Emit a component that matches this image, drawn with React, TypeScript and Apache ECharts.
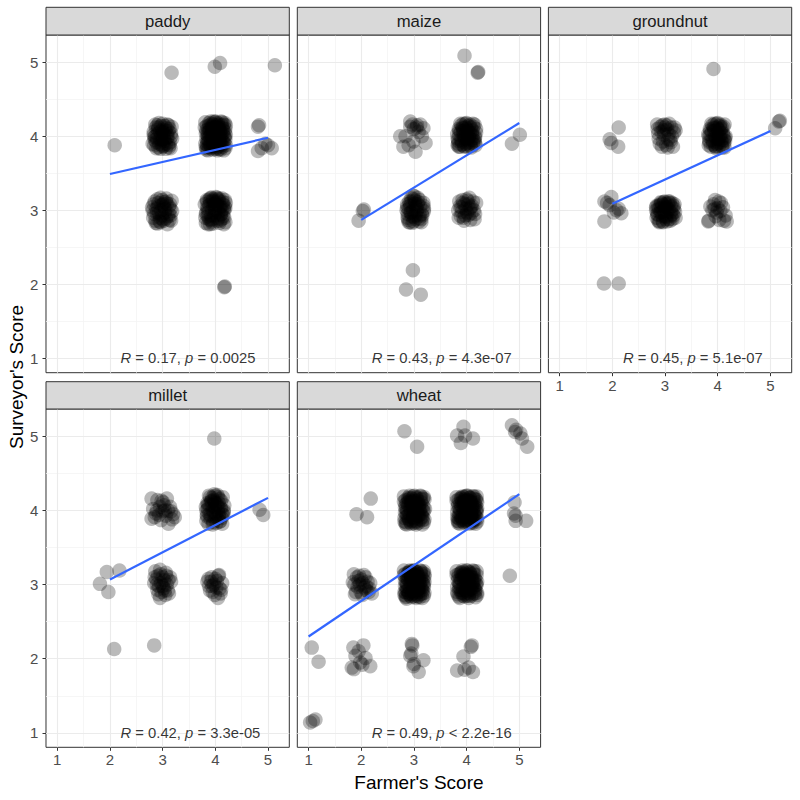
import React, { useEffect, useRef } from 'react';
import * as echarts from 'echarts';

// ---------------- data ----------------
const crops = ['paddy', 'maize', 'groundnut', 'millet', 'wheat'];
const xTicks = [1, 2, 3, 4, 5];
const yTicks = [1, 2, 3, 4, 5];
const minorTicks = [1.5, 2.5, 3.5, 4.5];
const rValues = ['0.17', '0.43', '0.45', '0.42', '0.49'];
const pValues = ['= 0.0025', '= 4.3e-07', '= 5.1e-07', '= 3.3e-05', '< 2.2e-16'];
const fitStart = [[2, 3.49], [2, 2.87], [2, 3.09], [2, 3.07], [1, 2.3]];
const fitEnd = [[5, 3.98], [5, 4.18], [5, 4.07], [5, 4.17], [5, 4.22]];

const paddyPoints = [
  [2.09, 3.88], [3.17, 4.86], [3.99, 4.94], [4.09, 4.99], [5.13, 4.96], [4.18, 1.97], [4.17, 1.96],
  [4.81, 4.13], [4.83, 4.15], [4.88, 3.84], [5.0, 3.88], [5.07, 3.84], [4.81, 3.8], [4.95, 3.9],
  [2.85, 3.95], [2.92, 4.12], [3.05, 4.08], [3.14, 3.92], [2.88, 3.84], [3.02, 3.87], [3.11, 4.15], [2.97, 4.01],
  [2.83, 4.06], [3.08, 3.98], [2.94, 3.9], [3.16, 4.04], [3.0, 4.17], [2.9, 4.03], [3.12, 3.85], [2.86, 4.16],
  [3.04, 3.94], [2.96, 3.83], [3.18, 3.97], [2.81, 3.9], [3.07, 4.11], [2.99, 4.08], [3.13, 4.1], [2.89, 3.97],
  [3.03, 4.02], [2.93, 4.18], [3.1, 3.89], [2.84, 3.99], [3.06, 3.83], [2.98, 3.95],
  [2.84, 3.88], [2.91, 4.09], [3.0, 3.86], [3.09, 4.16], [3.16, 4.0], [2.87, 4.12], [2.95, 3.96], [3.04, 4.14],
  [3.13, 3.88], [2.83, 4.02], [2.92, 3.85], [3.01, 4.05], [3.1, 3.99], [3.17, 4.13], [2.88, 3.92], [2.97, 4.14],
  [3.06, 3.9], [3.15, 3.84], [2.86, 4.0], [2.95, 4.06], [3.02, 3.97], [3.11, 4.07], [2.9, 4.15], [2.99, 3.88],
  [3.08, 4.03],
  [3.82, 3.85], [3.9, 4.1], [4.05, 4.18], [4.15, 3.92], [3.95, 3.82], [4.1, 4.05], [4.2, 4.15], [3.85, 4.02],
  [4.0, 3.95], [4.08, 3.83], [3.93, 4.17], [4.17, 4.0], [3.88, 3.93], [4.03, 4.07], [4.12, 3.88], [3.97, 4.12],
  [3.84, 4.14], [4.19, 3.84], [4.06, 3.98], [3.91, 3.87], [4.01, 4.2], [4.14, 4.11], [3.86, 3.81], [3.99, 4.04],
  [4.1, 3.94], [3.94, 4.0], [4.18, 4.06], [3.83, 3.97], [4.04, 3.86], [3.96, 4.16], [4.13, 4.19], [3.89, 4.07],
  [4.07, 4.13], [4.16, 3.81], [3.81, 4.19], [4.02, 3.9], [3.92, 3.95], [4.11, 4.01], [3.87, 4.1], [4.0, 3.83],
  [4.19, 3.96], [3.95, 4.09], [4.09, 3.9], [3.84, 3.89], [4.05, 4.03], [3.98, 3.87], [4.15, 4.08], [3.9, 4.0],
  [4.03, 4.15], [3.86, 4.05],
  [3.81, 3.9], [3.88, 4.18], [3.97, 3.91], [4.06, 4.11], [4.14, 3.86], [4.2, 4.02], [3.83, 4.08], [3.92, 3.84],
  [4.01, 4.13], [4.1, 3.99], [4.18, 4.18], [3.86, 3.96], [3.95, 4.06], [4.04, 3.81], [4.12, 4.15], [3.8, 4.12],
  [3.9, 3.89], [3.99, 4.19], [4.08, 3.93], [4.17, 3.91], [3.84, 3.84], [3.93, 4.13], [4.02, 3.99], [4.11, 4.2],
  [4.2, 3.88], [3.87, 4.0], [3.96, 3.86], [4.05, 4.16], [4.14, 4.04], [3.82, 4.04], [3.91, 4.2], [4.0, 3.88],
  [4.09, 4.08], [4.18, 3.99], [3.85, 3.92], [3.94, 4.11], [4.03, 3.84], [4.13, 3.95], [3.89, 4.15], [3.98, 3.98],
  [4.07, 4.02], [4.16, 4.16], [3.83, 3.82], [3.92, 4.03], [4.01, 4.07], [4.1, 3.82], [4.19, 4.1], [3.88, 3.86],
  [3.97, 4.2], [4.06, 3.93],
  [2.84, 2.95], [2.92, 3.1], [3.06, 3.12], [3.15, 2.93], [2.9, 2.82], [3.02, 2.86], [3.12, 3.05], [2.97, 3.0],
  [2.83, 3.08], [3.09, 2.81], [2.95, 2.9], [3.17, 3.13], [3.01, 3.08], [2.88, 3.02], [3.13, 2.87], [2.86, 2.86],
  [3.04, 2.97], [2.99, 3.14], [3.18, 2.99], [2.93, 2.96], [3.08, 3.09], [2.81, 3.0], [3.1, 2.92], [2.96, 2.84],
  [3.03, 3.04],
  [2.82, 2.9], [2.9, 3.15], [2.99, 2.93], [3.07, 3.16], [3.15, 3.02], [2.85, 3.12], [2.94, 2.85], [3.03, 3.11],
  [3.12, 2.95], [2.8, 3.04], [2.89, 2.97], [2.98, 3.07], [3.06, 2.89], [3.14, 3.08], [2.87, 2.83], [2.96, 3.17],
  [3.05, 3.01], [3.16, 2.86], [2.91, 3.05], [3.0, 2.88],
  [3.82, 2.95], [3.9, 3.12], [4.05, 3.15], [4.15, 2.92], [3.95, 2.82], [4.1, 3.05], [4.2, 3.1], [3.85, 3.02],
  [4.0, 2.97], [4.08, 2.83], [3.93, 3.17], [4.17, 3.0], [3.88, 2.88], [4.03, 3.07], [4.12, 2.88], [3.97, 3.12],
  [3.84, 3.14], [4.19, 2.84], [4.06, 2.98], [3.91, 2.87], [4.01, 3.18], [4.14, 3.11], [3.86, 2.81], [3.99, 3.04],
  [4.1, 2.94], [3.94, 3.0], [4.18, 3.06], [3.83, 2.97], [4.04, 2.86], [3.96, 3.15], [4.13, 3.16], [3.89, 3.07],
  [4.07, 3.13], [4.16, 2.81], [3.92, 2.93],
  [3.81, 2.9], [3.89, 3.15], [3.98, 2.93], [4.07, 3.16], [4.16, 3.02], [3.84, 3.12], [3.93, 2.85], [4.02, 3.11],
  [4.11, 2.95], [4.19, 3.03], [3.87, 2.97], [3.96, 3.07], [4.05, 2.89], [4.14, 3.08], [3.82, 2.83], [3.91, 3.17],
  [4.0, 3.01], [4.09, 2.86], [4.18, 3.14], [3.85, 3.05], [3.94, 2.88], [4.03, 3.17], [4.12, 3.0], [3.8, 3.08],
  [3.9, 2.81], [3.99, 3.09], [4.08, 3.03], [4.17, 2.9], [3.86, 2.92], [3.95, 3.13],
];

const maizePoints = [
  [3.96, 5.09], [4.21, 4.86], [4.22, 4.87], [5.01, 4.02], [4.86, 3.9], [2.03, 2.99], [2.05, 3.01], [1.95, 2.86],
  [2.98, 2.19], [2.85, 1.93], [3.13, 1.86],
  [2.84, 4.0], [2.93, 4.13], [3.06, 4.15], [3.18, 4.11], [2.9, 3.88], [3.03, 3.79], [3.22, 3.91], [2.74, 4.0],
  [3.15, 4.0], [2.99, 3.93], [3.09, 4.06], [2.93, 4.2], [2.8, 3.86], [3.05, 4.12], [2.97, 4.16], [3.0, 4.1],
  [3.12, 4.16],
  [3.84, 3.9], [3.92, 4.12], [4.06, 4.16], [4.15, 3.94], [3.96, 3.86], [4.1, 4.04], [4.18, 4.1], [3.86, 4.02],
  [4.01, 3.96], [4.08, 3.87], [3.94, 4.17], [4.16, 4.0], [3.89, 3.95], [4.03, 4.08], [4.12, 3.9], [3.98, 4.12],
  [3.85, 4.1], [4.17, 3.88], [4.05, 3.99], [3.91, 3.89], [4.0, 4.18], [4.13, 4.13], [3.87, 3.86], [3.99, 4.04],
  [4.09, 3.95], [3.95, 4.0], [4.02, 3.91], [3.93, 4.07], [4.11, 4.08], [3.83, 3.97],
  [3.83, 3.88], [3.9, 4.15], [3.99, 3.9], [4.08, 4.12], [4.16, 3.98], [3.86, 4.08], [3.95, 3.87], [4.04, 4.14],
  [4.13, 3.95], [3.82, 4.03], [3.91, 3.93], [4.0, 4.1], [4.09, 3.85], [4.18, 4.05], [3.88, 4.17], [3.97, 3.97],
  [4.06, 4.04], [4.15, 4.16], [3.84, 3.94], [3.93, 4.11], [4.02, 3.86], [4.11, 4.01], [3.89, 4.06], [3.98, 4.17],
  [4.07, 3.92], [4.16, 3.91], [3.85, 3.86], [3.94, 4.04], [4.03, 4.0], [4.12, 4.17],
  [2.88, 2.95], [2.95, 3.12], [3.07, 3.17], [3.16, 2.93], [2.92, 2.84], [3.03, 2.88], [3.12, 3.05], [2.98, 3.0],
  [2.87, 3.08], [3.1, 2.85], [2.96, 2.92], [3.18, 3.1], [3.02, 3.09], [2.9, 3.02], [3.14, 2.88], [2.89, 2.87],
  [3.05, 2.98], [3.0, 3.15], [3.19, 2.99], [2.94, 2.97], [3.08, 3.11], [2.86, 3.0], [3.11, 2.93], [2.97, 2.83],
  [3.04, 3.05], [3.01, 3.19], [2.93, 3.06],
  [2.88, 2.9], [2.95, 3.17], [3.03, 2.93], [3.11, 3.14], [3.19, 3.02], [2.91, 3.12], [2.99, 2.85], [3.07, 3.08],
  [3.15, 2.95], [2.87, 3.04], [2.94, 2.97], [3.02, 3.13], [3.1, 2.89], [3.18, 3.06], [2.9, 2.84], [2.98, 3.2],
  [3.06, 3.01], [3.14, 2.84], [2.92, 3.09], [3.0, 2.91],
  [3.84, 3.0], [3.92, 3.14], [4.05, 3.17], [4.16, 2.95], [3.95, 2.86], [4.1, 3.06], [4.18, 3.1], [3.87, 3.05],
  [4.01, 2.97], [4.07, 2.87], [3.93, 3.1], [4.14, 3.0], [3.89, 2.92], [4.03, 3.08], [3.98, 3.02], [3.85, 2.9],
  [4.12, 3.12], [3.97, 2.93], [4.02, 3.13], [4.09, 2.96], [3.9, 3.04], [4.06, 3.02],
  [3.86, 3.12], [3.94, 2.9], [4.0, 3.15], [4.08, 3.04], [4.15, 2.88], [3.91, 2.98], [4.04, 2.94], [3.96, 3.08],
];

const groundnutPoints = [
  [3.92, 4.91], [5.18, 4.21], [5.16, 4.2], [5.09, 4.11], [2.12, 4.12], [1.95, 3.96], [2.11, 3.86], [1.98, 3.91],
  [1.84, 2.01], [2.12, 2.01],
  [1.85, 3.12], [1.98, 3.18], [2.17, 2.96], [1.85, 2.85], [2.08, 3.0], [1.95, 3.07], [2.03, 2.97], [1.9, 3.1],
  [2.12, 3.02],
  [2.86, 4.1], [2.95, 4.15], [3.08, 4.17], [3.17, 4.05], [2.9, 3.9], [3.02, 3.88], [3.12, 4.12], [2.98, 4.02],
  [2.85, 4.16], [3.1, 3.95], [2.93, 4.06], [3.2, 4.08], [3.0, 4.12], [3.05, 3.85], [2.88, 3.97], [3.15, 3.86],
  [2.96, 3.93], [3.04, 4.09], [3.13, 4.0], [2.91, 4.13], [3.07, 4.03], [2.99, 4.16],
  [2.87, 4.04], [2.94, 3.86], [3.03, 4.15], [3.11, 3.92], [3.18, 4.12], [2.97, 4.08], [3.06, 3.96],
  [3.84, 3.92], [3.92, 4.12], [4.05, 4.16], [4.14, 3.94], [3.96, 3.86], [4.1, 4.04], [3.86, 4.02], [4.01, 3.96],
  [4.08, 3.87], [3.94, 4.17], [4.15, 4.0], [3.89, 3.95], [4.03, 4.08], [4.12, 3.9], [3.98, 4.12], [3.85, 4.1],
  [4.13, 3.85], [4.05, 3.99], [3.91, 3.89], [4.0, 4.18], [4.11, 4.13], [3.87, 3.86], [3.99, 4.04], [4.07, 3.95],
  [3.95, 4.0], [4.02, 3.91], [3.93, 4.07], [3.83, 4.0], [4.06, 4.1], [3.97, 3.84],
  [3.83, 3.88], [3.9, 4.15], [3.99, 3.9], [4.08, 4.12], [4.14, 3.98], [3.86, 4.08], [3.95, 3.87], [4.04, 4.14],
  [4.12, 3.95], [3.82, 4.03], [3.91, 3.93], [4.0, 4.1], [4.09, 3.85], [3.88, 4.17], [3.97, 3.97], [4.06, 4.04],
  [4.13, 4.16], [3.84, 3.94], [3.93, 4.11], [4.02, 3.86], [4.11, 4.01], [3.89, 4.06], [3.98, 4.17], [4.07, 3.92],
  [4.03, 4.0],
  [2.85, 2.95], [2.93, 3.1], [3.06, 3.12], [3.16, 2.93], [2.9, 2.85], [3.02, 2.88], [3.12, 3.05], [2.97, 3.0],
  [2.84, 3.06], [3.1, 2.86], [2.95, 2.92], [3.18, 3.08], [3.01, 3.08], [2.88, 3.02], [3.14, 2.88], [2.87, 2.86],
  [3.04, 2.97], [2.99, 3.12], [3.19, 2.98], [2.93, 2.97], [3.08, 3.1], [2.83, 3.0], [3.11, 2.93], [2.96, 2.84],
  [3.03, 3.04], [2.91, 3.07],
  [2.84, 2.9], [2.92, 3.11], [3.0, 2.92], [3.09, 3.12], [3.17, 3.02], [2.87, 3.06], [2.96, 2.85], [3.05, 3.09],
  [3.14, 2.95], [2.83, 3.04], [2.91, 2.97], [3.0, 3.05], [3.08, 2.88], [3.16, 3.06], [2.89, 2.84], [2.98, 3.11],
  [3.07, 3.01], [3.2, 2.9], [2.93, 3.03], [3.02, 2.91], [3.11, 2.98], [2.86, 2.94], [2.95, 3.08], [3.04, 2.85],
  [3.13, 3.1],
  [3.86, 3.05], [3.95, 3.14], [4.06, 3.1], [4.15, 2.93], [3.83, 2.86], [4.1, 3.04], [3.98, 2.97], [4.03, 2.87],
  [3.92, 3.08], [4.12, 2.86], [4.0, 3.03], [3.96, 2.92], [4.05, 2.99], [3.9, 3.0], [3.82, 2.85], [4.17, 2.85],
  [4.02, 3.12], [3.94, 3.02],
];

const milletPoints = [
  [3.98, 4.97], [4.91, 3.94], [4.84, 4.01], [1.94, 3.17], [2.18, 3.19], [1.81, 3.01], [1.97, 2.9], [2.08, 2.13],
  [2.84, 2.18],
  [2.79, 4.16], [3.08, 4.16], [2.85, 3.91], [3.04, 4.0], [3.2, 3.95], [3.11, 3.82], [2.95, 4.05], [2.79, 3.89],
  [3.23, 3.91], [3.01, 4.11], [2.89, 4.0], [3.14, 4.05], [2.93, 3.94], [3.06, 3.93], [2.98, 4.13], [3.16, 3.99],
  [2.82, 4.02], [2.9, 4.14], [2.97, 3.87], [3.03, 4.07], [3.1, 4.0], [3.18, 3.88], [2.87, 3.96], [3.0, 3.99],
  [3.84, 3.92], [3.92, 4.12], [4.05, 4.18], [4.15, 3.94], [3.96, 3.84], [4.1, 4.04], [3.86, 4.02], [4.01, 3.96],
  [4.08, 3.85], [3.94, 4.17], [4.16, 4.0], [3.89, 3.95], [4.03, 4.08], [4.12, 3.9], [3.98, 4.12], [3.85, 4.1],
  [4.13, 3.82], [4.05, 3.99], [3.91, 3.89], [4.0, 4.2], [4.11, 4.13], [3.87, 3.82], [3.99, 4.04], [4.07, 3.95],
  [3.95, 4.0], [4.02, 3.91], [3.93, 4.07], [3.83, 4.0], [4.06, 4.1], [3.97, 4.14],
  [3.83, 3.86], [3.9, 4.18], [3.99, 3.9], [4.08, 4.15], [4.16, 3.98], [3.86, 4.08], [3.95, 3.81], [4.04, 4.21],
  [4.13, 3.95], [3.82, 4.05], [3.91, 3.93], [4.0, 4.1], [4.09, 3.85], [4.17, 4.07], [3.88, 4.2], [3.97, 3.97],
  [4.06, 4.04], [4.14, 4.18], [3.84, 3.94], [3.93, 4.13], [4.02, 3.83], [4.11, 4.02], [3.89, 4.08], [3.98, 4.22],
  [4.07, 3.91],
  [2.86, 3.18], [2.95, 3.2], [3.06, 3.16], [3.16, 3.04], [2.9, 2.93], [3.02, 2.95], [3.12, 2.88], [2.97, 3.02],
  [2.84, 3.02], [3.1, 2.92], [2.95, 2.82], [3.0, 3.1], [2.88, 3.07], [3.14, 3.1], [3.05, 2.86], [2.93, 2.98],
  [3.08, 3.0], [2.98, 2.9], [3.03, 3.06], [2.91, 3.12],
  [2.89, 3.0], [2.96, 3.14], [3.04, 2.92], [3.11, 3.06], [2.92, 2.87], [3.0, 2.98], [3.07, 3.12], [2.85, 3.1],
  [3.85, 3.04], [3.93, 3.1], [4.06, 3.12], [4.13, 3.02], [3.9, 2.92], [4.02, 2.96], [4.1, 2.88], [3.97, 3.0],
  [4.05, 2.82], [3.88, 2.98], [4.0, 3.08], [4.08, 2.95], [3.95, 2.9],
  [3.87, 3.08], [3.94, 2.98], [4.03, 3.05], [4.11, 2.93], [3.99, 2.86], [4.07, 3.13], [3.92, 3.04],
];

const wheatPoints = [
  [2.82, 5.07], [3.06, 4.86], [3.94, 5.13], [3.82, 5.01], [4.12, 4.97], [3.89, 4.91], [3.97, 5.01],
  [4.86, 5.15], [5.02, 5.04], [5.15, 4.86], [4.92, 5.06], [5.05, 4.97], [4.94, 5.09],
  [4.91, 4.11], [4.9, 3.96], [4.93, 3.93], [5.13, 3.86], [4.93, 3.86], [4.82, 3.12],
  [2.18, 4.16], [1.91, 3.95], [2.11, 3.91], [1.06, 2.15], [1.19, 1.96], [1.03, 1.14], [1.13, 1.18], [1.08, 1.16],
  [1.85, 2.15], [2.04, 2.18], [1.82, 1.88], [1.98, 1.95], [2.17, 1.9], [1.89, 2.04], [2.08, 2.01], [1.86, 1.86],
  [2.02, 1.92], [1.95, 2.1],
  [2.96, 2.2], [2.93, 2.04], [3.18, 1.98], [3.09, 1.82], [2.99, 1.9], [2.97, 2.18], [2.95, 2.07], [3.0, 1.93],
  [4.1, 2.18], [3.94, 2.03], [3.82, 1.84], [4.04, 1.88], [4.12, 1.82], [3.96, 1.85], [4.08, 2.16],
  [1.86, 3.14], [1.95, 3.05], [2.08, 3.1], [2.15, 2.95], [1.9, 2.9], [2.02, 2.86], [2.12, 3.04], [1.97, 3.0],
  [1.84, 3.03], [2.2, 2.88], [1.93, 2.97], [2.05, 3.13], [2.1, 2.92], [1.88, 2.87], [2.0, 3.07], [2.17, 3.02],
  [1.92, 3.1], [2.06, 2.96], [1.99, 2.9], [1.87, 3.0], [2.03, 3.02], [2.14, 2.9], [1.96, 3.12], [2.09, 2.98],
  [2.82, 3.85], [2.9, 4.12], [3.05, 4.18], [3.15, 3.92], [2.95, 3.82], [3.1, 4.05], [3.2, 4.15], [2.85, 4.02],
  [3.0, 3.95], [3.08, 3.83], [2.93, 4.17], [3.17, 4.0], [2.88, 3.93], [3.03, 4.07], [3.12, 3.88], [2.97, 4.12],
  [2.84, 4.14], [3.19, 3.84], [3.06, 3.98], [2.91, 3.87], [3.01, 4.2], [3.14, 4.11], [2.86, 3.81], [2.99, 4.04],
  [3.1, 3.94], [2.94, 4.0], [3.18, 4.06], [2.83, 3.97], [3.04, 3.86], [2.96, 4.16], [3.13, 4.19], [2.89, 4.07],
  [3.07, 4.13], [3.16, 3.81], [2.81, 4.19], [3.02, 3.9], [2.92, 3.95], [3.11, 4.01], [2.87, 4.1], [3.0, 3.83],
  [2.82, 3.9], [2.89, 4.17], [2.98, 3.91], [3.07, 4.1], [3.16, 3.87], [3.21, 4.02], [2.84, 4.08], [2.93, 3.84],
  [3.02, 4.13], [3.11, 3.99], [3.19, 4.18], [2.86, 3.96], [2.95, 4.06], [3.04, 3.81], [3.13, 4.15], [2.81, 4.12],
  [2.9, 3.89], [2.99, 4.19], [3.08, 3.93], [3.17, 3.91], [2.85, 3.84], [2.94, 4.13], [3.03, 3.99], [3.12, 4.2],
  [3.2, 3.88], [2.87, 4.0], [2.96, 3.86], [3.05, 4.16], [3.14, 4.04], [2.83, 4.04], [2.92, 4.2], [3.01, 3.88],
  [3.1, 4.08], [3.19, 3.99], [2.86, 3.92], [2.95, 4.11], [3.04, 3.84], [3.14, 3.95], [2.9, 4.15], [2.99, 3.98],
  [3.08, 4.02], [3.17, 4.16], [2.84, 3.82], [2.93, 4.03], [3.02, 4.07],
  [3.83, 3.86], [3.91, 4.11], [4.06, 4.17], [4.16, 3.93], [3.96, 3.83], [4.11, 4.06], [4.19, 4.14], [3.86, 4.03],
  [4.01, 3.96], [4.09, 3.84], [3.94, 4.18], [4.18, 4.01], [3.89, 3.92], [4.04, 4.08], [4.13, 3.87], [3.98, 4.13],
  [3.85, 4.15], [4.2, 3.85], [4.07, 3.99], [3.92, 3.88], [4.02, 4.2], [4.15, 4.1], [3.87, 3.82], [4.0, 4.05],
  [4.11, 3.95], [3.95, 4.01], [4.17, 4.07], [3.82, 3.98], [4.05, 3.87], [3.97, 4.15], [4.14, 4.19], [3.9, 4.06],
  [4.08, 4.12], [4.17, 3.82], [3.81, 4.18], [4.03, 3.91], [3.93, 3.96], [4.12, 4.02], [3.88, 4.09], [4.0, 3.84],
  [4.19, 3.97], [3.96, 4.09], [4.1, 3.9], [3.84, 3.9], [4.04, 4.03],
  [3.82, 3.91], [3.89, 4.17], [3.98, 3.92], [4.07, 4.12], [4.15, 3.87], [4.2, 4.03], [3.84, 4.09], [3.93, 3.85],
  [4.02, 4.14], [4.11, 4.0], [4.19, 4.19], [3.87, 3.97], [3.96, 4.07], [4.05, 3.82], [4.13, 4.16], [3.81, 4.13],
  [3.91, 3.9], [4.0, 4.2], [4.09, 3.94], [4.18, 3.92], [3.85, 3.85], [3.94, 4.14], [4.03, 4.0], [4.12, 4.19],
  [4.2, 3.89], [3.88, 4.01], [3.97, 3.87], [4.06, 4.17], [4.15, 4.05], [3.83, 4.05], [3.92, 4.19], [4.01, 3.89],
  [4.1, 4.09], [4.19, 4.0], [3.86, 3.93], [3.95, 4.12], [4.04, 3.85], [4.14, 3.96], [3.9, 4.16], [3.99, 3.99],
  [4.08, 4.03], [4.17, 4.15], [3.84, 3.83], [3.93, 4.04], [4.02, 4.08], [4.11, 3.83], [4.2, 4.11], [3.89, 3.87],
  [3.98, 4.19], [4.07, 3.94],
  [2.82, 2.86], [2.9, 3.11], [3.05, 3.17], [3.15, 2.93], [2.95, 2.83], [3.1, 3.06], [3.2, 3.14], [2.85, 3.03],
  [3.0, 2.96], [3.08, 2.84], [2.93, 3.18], [3.17, 3.01], [2.88, 2.92], [3.03, 3.08], [3.12, 2.87], [2.97, 3.13],
  [2.84, 3.15], [3.19, 2.85], [3.06, 2.99], [2.91, 2.88], [3.01, 3.19], [3.14, 3.1], [2.86, 2.81], [2.99, 3.05],
  [3.1, 2.95], [2.94, 3.01], [3.18, 3.07], [2.83, 2.98], [3.04, 2.87], [2.96, 3.16], [3.13, 3.18], [2.89, 3.07],
  [3.07, 3.12], [3.16, 2.82], [2.81, 3.19], [3.02, 2.91], [2.92, 2.96], [3.11, 3.02], [2.87, 3.09], [3.0, 2.84],
  [3.19, 2.97], [2.95, 3.09], [3.09, 2.9], [2.84, 2.9], [3.05, 3.03],
  [2.82, 2.9], [2.89, 3.16], [2.98, 2.92], [3.07, 3.14], [3.16, 2.88], [3.2, 3.04], [2.84, 3.1], [2.93, 2.85],
  [3.02, 3.13], [3.11, 3.0], [3.19, 3.18], [2.86, 2.97], [2.95, 3.07], [3.04, 2.82], [3.13, 3.15], [2.81, 3.13],
  [2.9, 2.89], [2.99, 3.19], [3.08, 2.94], [3.17, 2.92], [2.85, 2.84], [2.94, 3.14], [3.03, 3.01], [3.12, 3.19],
  [3.2, 2.89], [2.87, 3.01], [2.96, 2.87], [3.05, 3.17], [3.14, 3.05], [2.83, 3.05], [2.92, 3.19], [3.01, 2.89],
  [3.1, 3.09], [3.19, 3.0], [2.86, 2.93], [2.95, 3.12], [3.04, 2.85], [3.14, 2.96], [2.9, 3.16], [2.99, 2.99],
  [3.08, 3.03], [3.17, 3.16], [2.84, 2.83], [2.93, 3.04], [3.02, 3.08], [3.11, 2.83], [3.2, 3.11], [2.89, 2.87],
  [2.98, 3.18], [3.07, 2.94],
  [3.83, 2.87], [3.91, 3.12], [4.06, 3.16], [4.16, 2.94], [3.96, 2.84], [4.11, 3.05], [4.19, 3.13], [3.86, 3.02],
  [4.01, 2.97], [4.09, 2.85], [3.94, 3.17], [4.18, 3.0], [3.89, 2.93], [4.04, 3.09], [4.13, 2.88], [3.98, 3.12],
  [3.85, 3.14], [4.2, 2.86], [4.07, 2.98], [3.92, 2.89], [4.02, 3.19], [4.15, 3.09], [3.87, 2.82], [4.0, 3.04],
  [4.11, 2.96], [3.95, 3.0], [4.17, 3.06], [3.82, 2.97], [4.05, 2.88], [3.97, 3.15], [4.14, 3.18], [3.9, 3.07],
  [4.08, 3.11], [4.17, 2.83], [3.81, 3.18], [4.03, 2.92], [3.93, 2.95], [4.12, 3.01], [3.88, 3.08], [4.0, 2.85],
  [3.82, 2.9], [3.89, 3.16], [3.98, 2.92], [4.07, 3.14], [4.16, 2.88], [4.2, 3.04], [3.84, 3.1], [3.93, 2.85],
  [4.02, 3.13], [4.11, 3.0], [4.19, 3.18], [3.86, 2.97], [3.95, 3.07], [4.04, 2.82], [4.13, 3.15], [3.81, 3.13],
  [3.9, 2.89], [3.99, 3.19], [4.08, 2.94], [4.17, 2.92], [3.85, 2.84], [3.94, 3.14], [4.03, 3.01], [4.12, 3.19],
  [4.2, 2.89], [3.87, 3.01], [3.96, 2.87], [4.05, 3.17], [4.14, 3.05], [3.83, 3.05], [3.92, 3.19], [4.01, 2.89],
  [4.1, 3.09], [4.19, 3.0], [3.86, 2.93], [3.95, 3.12], [4.04, 2.85], [4.14, 2.96], [3.9, 3.16], [3.99, 2.99],
];

const cropPoints = [paddyPoints, maizePoints, groundnutPoints, milletPoints, wheatPoints];

// ---------------- layout ----------------
const FONT = '"Liberation Sans", Arial, Helvetica, sans-serif';
const COL_LEFT = [46, 297.3, 548.4];
const PANEL_W = 243.3;
const ROW = [
  { strip: 7.3, stripH: 27.7, top: 35, h: 337.7 },
  { strip: 381.7, stripH: 27.3, top: 409, h: 338.3 },
];
const X_MIN = 0.786, X_MAX = 5.404, Y_MIN = 0.805, Y_MAX = 5.369;
const LABEL_X = 2.2, LABEL_Y = 1;

export default function App() {
  const ref = useRef<HTMLDivElement>(null);
  useEffect(() => {
    if (!ref.current) return;
    const chart = echarts.init(ref.current, undefined, { renderer: 'svg' });

    const grids: any[] = [];
    const xAxes: any[] = [];
    const yAxes: any[] = [];
    const series: any[] = [];
    const graphics: any[] = [];

    const major = { color: '#EBEBEB', width: 1.1, type: 'solid' };
    const minor = { color: '#F4F4F4', width: 0.8, type: 'solid' };

    crops.forEach((crop, i) => {
      const col = i % 3;
      const row = Math.floor(i / 3);
      const left = COL_LEFT[col];
      const r = ROW[row];
      const showX = i >= 2;
      const showY = col === 0;
      grids.push({
        left, top: r.top, width: PANEL_W, height: r.h,
        show: true, borderColor: '#333333', borderWidth: 1, backgroundColor: '#FFFFFF',
        containLabel: false,
      });
      xAxes.push({
        gridIndex: i, type: 'value', min: X_MIN, max: X_MAX,
        axisLine: { show: false }, splitLine: { show: false },
        axisTick: { show: showX, length: 3.5, customValues: xTicks, lineStyle: { color: '#333333', width: 1 } },
        axisLabel: { show: showX, customValues: xTicks, color: '#4D4D4D', fontSize: 15, fontFamily: FONT, margin: 5 },
      });
      yAxes.push({
        gridIndex: i, type: 'value', min: Y_MIN, max: Y_MAX,
        axisLine: { show: false }, splitLine: { show: false },
        axisTick: { show: showY, length: 3.5, customValues: yTicks, lineStyle: { color: '#333333', width: 1 } },
        axisLabel: { show: showY, customValues: yTicks, color: '#4D4D4D', fontSize: 15, fontFamily: FONT, margin: 7.7 },
      });

      const gridLines = [
        ...minorTicks.map((v) => ({ xAxis: v, lineStyle: minor })),
        ...minorTicks.map((v) => ({ yAxis: v, lineStyle: minor })),
        ...xTicks.map((v) => ({ xAxis: v, lineStyle: major })),
        ...yTicks.map((v) => ({ yAxis: v, lineStyle: major })),
      ];

      series.push({
        type: 'scatter', xAxisIndex: i, yAxisIndex: i, z: 2,
        data: cropPoints[i], symbol: 'circle', symbolSize: 14.5,
        itemStyle: { color: 'rgba(0,0,0,0.34)' },
        silent: true,
        markLine: {
          silent: true, symbol: ['none', 'none'], z: 1, animation: false,
          label: { show: false }, data: gridLines,
        },
      });
      series.push({
        type: 'line', xAxisIndex: i, yAxisIndex: i, z: 3, silent: true,
        data: [fitStart[i], fitEnd[i]], symbol: 'none',
        lineStyle: { color: '#3366FF', width: 2.2 },
      });
      series.push({
        type: 'scatter', xAxisIndex: i, yAxisIndex: i, z: 4, silent: true,
        data: [[LABEL_X, LABEL_Y]], symbolSize: 0.01, itemStyle: { color: 'rgba(0,0,0,0)' },
        label: {
          show: true, position: 'right', distance: 0,
          formatter: '{i|R} = ' + rValues[i] + ', {i|p} ' + pValues[i],
          color: '#000000', fontSize: 14.8, fontFamily: FONT,
          rich: { i: { fontStyle: 'italic', fontSize: 14.8, fontFamily: FONT, color: '#000000' } },
        },
      });

      graphics.push({
        type: 'rect', z: 10,
        shape: { x: left, y: r.strip, width: PANEL_W, height: r.stripH },
        style: { fill: '#D9D9D9', stroke: '#333333', lineWidth: 1 },
      });
      graphics.push({
        type: 'text', z: 11,
        x: left + PANEL_W / 2, y: r.strip + r.stripH / 2,
        style: {
          text: crop, fill: '#1A1A1A', fontSize: 16.7, fontFamily: FONT,
          align: 'center', verticalAlign: 'middle', textAlign: 'center', textVerticalAlign: 'middle',
        },
      });
    });

    graphics.push({
      type: 'text', z: 11, x: 418.9, y: 782,
      style: {
        text: "Farmer's Score", fill: '#000000', fontSize: 19, fontFamily: FONT,
        align: 'center', verticalAlign: 'middle', textAlign: 'center', textVerticalAlign: 'middle',
      },
    });
    graphics.push({
      type: 'text', z: 11, x: 16.5, y: 377, rotation: Math.PI / 2,
      style: {
        text: "Surveyor's Score", fill: '#000000', fontSize: 19, fontFamily: FONT,
        align: 'center', verticalAlign: 'middle', textAlign: 'center', textVerticalAlign: 'middle',
      },
    });

    chart.setOption({
      animation: false,
      backgroundColor: '#FFFFFF',
      grid: grids,
      xAxis: xAxes,
      yAxis: yAxes,
      series,
      graphic: graphics,
    });
    return () => chart.dispose();
  }, []);
  return <div ref={ref} style={{ position: 'absolute', left: 0, top: 0, width: 800, height: 800 }} />;
}
